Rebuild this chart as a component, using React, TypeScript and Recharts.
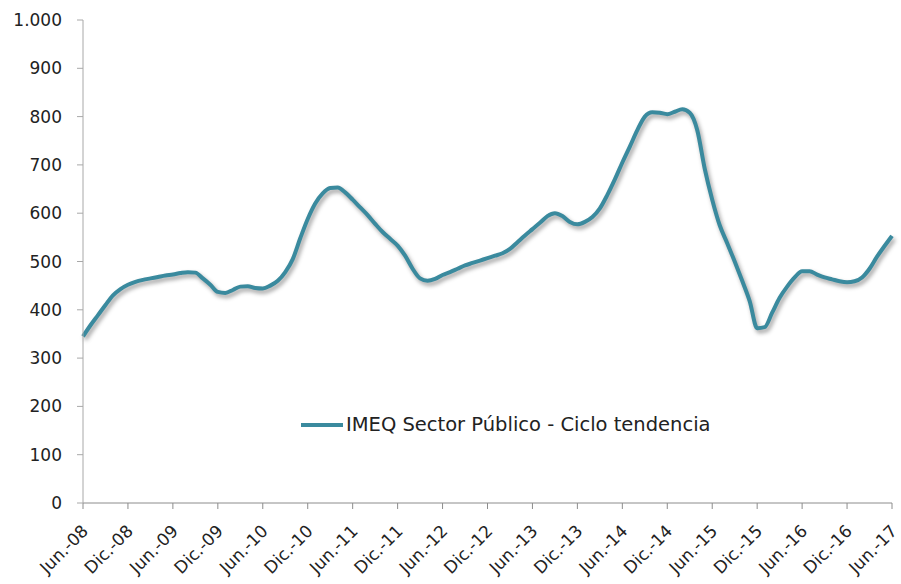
import React from "react";
import { LineChart, Line, XAxis, YAxis, Legend } from "recharts";

const monthNames = ["Ene.", "Feb.", "Mar.", "Abr.", "May.", "Jun.", "Jul.", "Ago.", "Sep.", "Oct.", "Nov.", "Dic."];
const startYear = 2008;
const startMonthIndex = 5; // Jun.

const imeqValues = [
  345, 368, 389, 410, 430, 443, 452, 458, 462, 465, 468, 471,
  473, 476, 478, 477, 465, 452, 437, 435, 441, 448, 449, 445,
  444, 450, 460, 478, 505, 548, 588, 620, 641, 652, 653, 643,
  628, 612, 596, 578, 561, 547, 533, 512, 485, 465, 460, 464,
  472, 478, 485, 492, 497, 502, 507, 512, 517, 526, 540, 554,
  567, 580, 594, 600, 594, 582, 577, 582, 592, 610, 638, 670,
  705, 738, 772, 800, 809, 808, 805, 810, 815, 808, 772, 692,
  628, 575, 538, 500, 460, 418, 362, 364, 394, 425, 448, 467,
  480, 480, 473, 467, 463, 459, 457, 459, 467, 485, 510, 532,
  553,
];

const yTicks = [0, 100, 200, 300, 400, 500, 600, 700, 800, 900, 1000];
const seriesName = "IMEQ Sector Público - Ciclo tendencia";

const categories = imeqValues.map((_, i) => {
  const mi = (startMonthIndex + i) % 12;
  const yr = startYear + Math.floor((startMonthIndex + i) / 12);
  return `${monthNames[mi]}-${String(yr % 100).padStart(2, "0")}`;
});

const data = categories.map((c, i) => ({ mes: c, valor: imeqValues[i] }));

const FONT = "'DejaVu Sans', sans-serif";
const LINE_COLOR = "#3a8a9e";

const fmt = (v: number) => (v >= 1000 ? `${Math.floor(v / 1000)}.${String(v % 1000).padStart(3, "0")}` : String(v));

const XTick = (props: any) => {
  const { x, y, payload } = props;
  return (
    <g transform={`translate(${x + 2},${y + 17}) rotate(-45)`}>
      <text x={0} y={0} dy="0.35em" textAnchor="end" fontFamily={FONT} fontSize={17} fill="#222">
        {payload.value}
      </text>
    </g>
  );
};

const LegendContent = () => (
  <div style={{ display: "flex", alignItems: "center", fontFamily: FONT, fontSize: 19.5, color: "#222", whiteSpace: "nowrap" }}>
    <span style={{ display: "inline-block", width: 42, height: 4, background: LINE_COLOR, marginRight: 3 }} />
    <span>{seriesName}</span>
  </div>
);

export default function App() {
  return (
    <div style={{ width: 901, height: 584 }}>
      <style>{`body{margin:0;} .shadowline .recharts-line-curve{filter: drop-shadow(2px 3px 2px rgba(0,0,0,0.38));}`}</style>
      <LineChart width={901} height={584} data={data} margin={{ top: 20, right: 9, left: 0, bottom: 0 }}>
        <XAxis
          dataKey="mes"
          interval={5}
          height={81}
          tickSize={6}
          tickMargin={2}
          stroke="#8c8c8c"
          tick={<XTick />}
          tickLine={{ stroke: "#8c8c8c" }}
        />
        <YAxis
          domain={[0, 1000]}
          ticks={yTicks}
          width={83}
          tickSize={6}
          tickMargin={15}
          stroke="#a8a8a8"
          tickFormatter={fmt}
          tick={{ fontFamily: FONT, fontSize: 17, fill: "#222" }}
          interval={0}
        />
        <Legend
          verticalAlign="middle"
          align="center"
          content={<LegendContent />}
          wrapperStyle={{ position: "absolute", left: 301, top: 413, width: "auto", height: "auto" }}
        />
        <Line
          className="shadowline"
          type="monotone"
          dataKey="valor"
          name={seriesName}
          stroke={LINE_COLOR}
          strokeWidth={4}
          dot={false}
          activeDot={false}
          isAnimationActive={false}
        />
      </LineChart>
    </div>
  );
}
